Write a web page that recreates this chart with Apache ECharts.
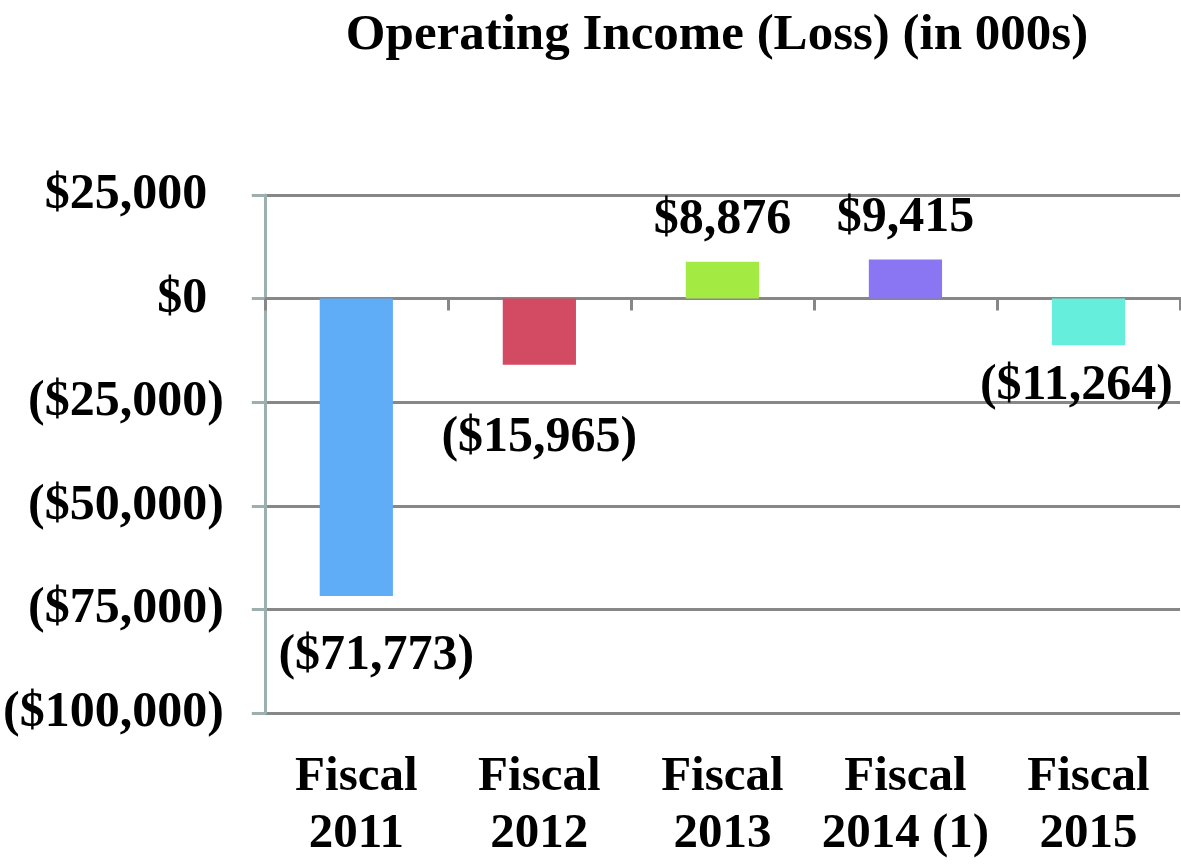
<!DOCTYPE html>
<html>
<head>
<meta charset="utf-8">
<script src="https://cdn.jsdelivr.net/npm/echarts@6/dist/echarts.min.js"></script>
<style>
html,body{margin:0;padding:0;background:#fff;}
#chart{width:1181px;height:864px;}
</style>
</head>
<body>
<div id="chart"></div>
<script>
var title = 'Operating Income (Loss) (in 000s)';
var categories = ['Fiscal\n2011', 'Fiscal\n2012', 'Fiscal\n2013', 'Fiscal\n2014 (1)', 'Fiscal\n2015'];
var values = [-71773, -15965, 8876, 9415, -11264];
var barColors = ['#5FADF7', '#D34A63', '#A3EA43', '#8A76F2', '#66EEDC'];
var labelGaps = [35, 48, 17, 17, 16];
var labelShiftX = [20, 0, 0, 0, -12];
var yMin = -100000, yMax = 25000, yStep = 25000;

var FONT = '"Liberation Serif", "Times New Roman", serif';

function commas(n) {
  return String(Math.round(Math.abs(n))).replace(/\B(?=(\d{3})+(?!\d))/g, ',');
}
function money(v) {
  return v < 0 ? '($' + commas(v) + ')' : '$' + commas(v);
}

var chart = echarts.init(document.getElementById('chart'), null, {renderer: 'canvas'});
chart.setOption({
  animation: false,
  backgroundColor: '#ffffff',
  title: {
    text: title,
    left: 712,
    textAlign: 'center',
    top: 5,
    textStyle: {fontFamily: FONT, fontWeight: 'bold', fontSize: 51, color: '#000'}
  },
  grid: {left: 263, right: 1, top: 195, bottom: 151, containLabel: false},
  xAxis: [{
    type: 'category',
    data: categories,
    position: 'bottom',
    axisLine: {onZero: true, lineStyle: {color: '#878787', width: 3}},
    axisTick: {show: true, length: 12, lineStyle: {color: '#878787', width: 3}},
    axisLabel: {show: false},
    splitLine: {show: false}
  }, {
    type: 'category',
    data: categories,
    position: 'bottom',
    axisLine: {show: false, onZero: false},
    axisTick: {show: false},
    axisLabel: {
      show: true, margin: 36, interval: 0,
      fontFamily: FONT, fontWeight: 'bold', fontSize: 49, lineHeight: 57, color: '#000'
    },
    splitLine: {show: false}
  }],
  yAxis: {
    type: 'value',
    min: yMin, max: yMax, interval: yStep,
    axisLine: {show: true, lineStyle: {color: '#9BB0AE', width: 3}},
    axisTick: {show: true, length: 13, lineStyle: {color: '#9BB0AE', width: 3}},
    splitLine: {show: true, lineStyle: {color: '#878787', width: 3}},
    axisLabel: {
      margin: 41,
      fontFamily: FONT, fontWeight: 'bold', fontSize: 50, color: '#000',
      formatter: function (v) {
        return v < 0 ? money(v) : money(v) + '{h|)}';
      },
      rich: {
        h: {fontFamily: FONT, fontWeight: 'bold', fontSize: 50, color: 'rgba(0,0,0,0)'}
      }
    }
  },
  series: [{
    type: 'bar',
    xAxisIndex: 0,
    barWidth: '40%',
    data: values.map(function (v, i) {
      return {
        value: v,
        itemStyle: {color: barColors[i]},
        label: {
          position: v < 0 ? 'bottom' : 'top',
          distance: labelGaps[i],
          offset: [labelShiftX[i], 0]
        }
      };
    }),
    label: {
      show: true,
      fontFamily: FONT, fontWeight: 'bold', fontSize: 50, color: '#000',
      formatter: function (p) { return money(p.value); }
    }
  }]
});
</script>
</body>
</html>
